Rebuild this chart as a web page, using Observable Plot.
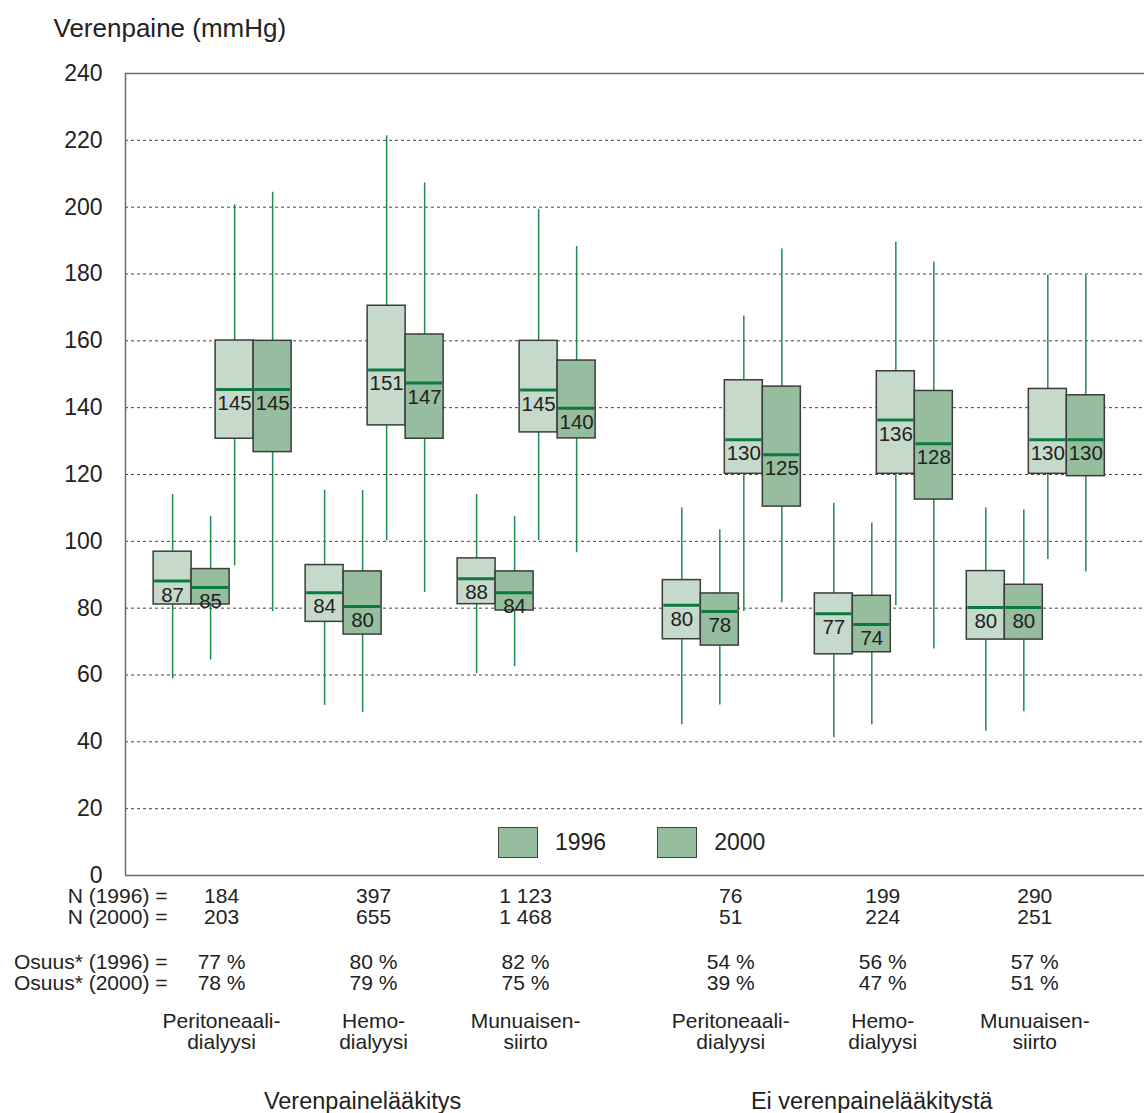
<!DOCTYPE html>
<html><head><meta charset="utf-8">
<script src="https://cdn.jsdelivr.net/npm/d3@7"></script>
<script src="https://cdn.jsdelivr.net/npm/@observablehq/plot@0.6"></script>
<style>
body{margin:0;background:#fff;font-family:"Liberation Sans",Arial,Helvetica,sans-serif;}
#wrap{position:relative;width:1144px;height:1113px;overflow:hidden;}
#legend{position:absolute;left:498px;top:827px;display:flex;align-items:center;font-size:23px;color:#222;}
.sw{width:38px;height:29px;background:#96bd9d;border:1.5px solid #444;}
.lt{margin-left:17px;}
.gap{width:51px;}
</style></head>
<body>
<div id="wrap"><div id="chart"></div>
<div id="legend"><div class="sw"></div><span class="lt">1996</span><div class="gap"></div><div class="sw"></div><span class="lt">2000</span></div>
</div>
<script>
// ---- data ----
const groupLabels = ["Peritoneaali-\ndialyysi","Hemo-\ndialyysi","Munuaisen-\nsiirto","Peritoneaali-\ndialyysi","Hemo-\ndialyysi","Munuaisen-\nsiirto"];
const groupPos = [0, 1, 2, 3.35, 4.35, 5.35];
const sectionLabels = ["Verenpainelääkitys", "Ei verenpainelääkitystä"];
const sectionPos = [1, 4.35];
const n1996 = [184, 397, 1123, 76, 199, 290];
const n2000 = [203, 655, 1468, 51, 224, 251];
const share1996 = [77, 80, 82, 54, 56, 57];
const share2000 = [78, 79, 75, 39, 47, 51];
const yTicks = [0, 20, 40, 60, 80, 100, 120, 140, 160, 180, 200, 220, 240];
const years = [1996, 2000];
// rows: [whisker low, Q1, median, Q3, whisker high, median label]
const dia1996 = [
  [58.8, 81.1, 88.1, 96.9, 114.0, 87],
  [50.9, 75.9, 84.6, 92.9, 115.3, 84],
  [60.4, 81.2, 88.8, 94.9, 114.0, 88],
  [45.1, 70.7, 80.9, 88.4, 110.0, 80],
  [41.2, 66.2, 78.3, 84.4, 111.4, 77],
  [43.2, 70.6, 80.2, 91.1, 110.0, 80]
];
const dia2000 = [
  [64.5, 81.1, 86.2, 91.7, 107.5, 85],
  [48.8, 72.1, 80.5, 91.0, 115.2, 80],
  [62.5, 79.3, 84.6, 91.0, 107.4, 84],
  [51.0, 68.8, 79.0, 84.4, 103.5, 78],
  [45.1, 66.8, 75.1, 83.7, 105.5, 74],
  [49.0, 70.6, 80.2, 87.0, 109.4, 80]
];
const sys1996 = [
  [92.7, 130.7, 145.4, 160.1, 200.7, 145],
  [100.2, 134.7, 151.3, 170.5, 221.4, 151],
  [100.2, 132.6, 145.3, 160.0, 199.3, 145],
  [79.0, 120.2, 130.4, 148.2, 167.4, 130],
  [80.8, 120.2, 136.3, 150.9, 189.5, 136],
  [94.6, 120.2, 130.4, 145.6, 179.7, 130]
];
const sys2000 = [
  [78.9, 126.7, 145.4, 160.0, 204.5, 145],
  [84.7, 130.7, 147.4, 161.9, 207.2, 147],
  [96.6, 130.8, 139.8, 154.1, 188.2, 140],
  [81.6, 110.4, 125.9, 146.3, 187.5, 125],
  [67.8, 112.5, 129.2, 145.0, 183.6, 128],
  [90.8, 119.5, 130.4, 143.7, 179.7, 130]
];

// ---- layout of the boxes around each group position ----
const boxW = 0.25;
const series = [
  {rows: dia1996, year: 1996, pair: -0.197},
  {rows: dia2000, year: 2000, pair: -0.197},
  {rows: sys1996, year: 1996, pair: 0.211},
  {rows: sys2000, year: 2000, pair: 0.211}
];
const boxes = [];
for (const s of series) {
  s.rows.forEach((r, i) => {
    const pc = groupPos[i] + s.pair;
    const x1 = s.year === 1996 ? pc - boxW : pc;
    const x2 = x1 + boxW;
    boxes.push({x1, x2, xc: (x1 + x2) / 2, lo: r[0], q1: r[1], med: r[2], q3: r[3], hi: r[4], label: String(r[5]), year: s.year});
  });
}

const fmtN = d3.formatLocale({decimal: ",", thousands: "\u00a0", grouping: [3], currency: ["", ""]}).format(",d");
const font = "'Liberation Sans', Arial, Helvetica, sans-serif";
const txt = "#222";
const fs = 21;

const chart = Plot.plot({
  width: 1144, height: 1113,
  marginTop: 73, marginBottom: 238, marginLeft: 125, marginRight: 0,
  style: {fontFamily: font, fontSize: "23px", color: txt, background: "#fff"},
  x: {axis: null, domain: [-0.632, 6.072]},
  y: {domain: [0, 240], axis: null},
  color: {type: "ordinal", domain: years, range: ["#c5dacb", "#96bd9d"]},
  marks: [
    Plot.ruleY(yTicks.filter(d => d > 0 && d < 240), {stroke: "#444", strokeWidth: 1, strokeDasharray: "3,3"}),
    Plot.ruleY([0, 240], {stroke: "#6a6a6a", strokeWidth: 1.5}),
    Plot.ruleX([-0.632], {stroke: "#6a6a6a", strokeWidth: 1.5}),
    Plot.axisY({ticks: yTicks, tickSize: 0, tickPadding: 23, fontSize: 23, fill: txt, label: null}),
    Plot.ruleX(boxes, {x: "xc", y1: "lo", y2: "hi", stroke: "#1e8c50", strokeWidth: 1.5}),
    Plot.rect(boxes, {x1: "x1", x2: "x2", y1: "q1", y2: "q3", fill: "year", stroke: "#3c3c3c", strokeWidth: 1.5}),
    Plot.ruleY(boxes, {x1: "x1", x2: "x2", y: "med", stroke: "#0b7a3e", strokeWidth: 3, insetLeft: 1, insetRight: 1}),
    Plot.text(boxes, {x: "xc", y: "med", text: "label", dy: 14, lineAnchor: "middle", fontSize: 20.5, fill: txt}),
    // title
    Plot.text(["Verenpaine (mmHg)"], {frameAnchor: "top-left", dx: -72, dy: -45, textAnchor: "start", lineAnchor: "middle", fontSize: 26, fill: txt}),
    // row labels
    Plot.text(["N (1996) ="], {frameAnchor: "bottom-left", dx: 42, dy: 21, textAnchor: "end", lineAnchor: "middle", fontSize: fs, fill: txt}),
    Plot.text(["N (2000) ="], {frameAnchor: "bottom-left", dx: 42, dy: 42, textAnchor: "end", lineAnchor: "middle", fontSize: fs, fill: txt}),
    Plot.text(["Osuus* (1996) ="], {frameAnchor: "bottom-left", dx: 42, dy: 87, textAnchor: "end", lineAnchor: "middle", fontSize: fs, fill: txt}),
    Plot.text(["Osuus* (2000) ="], {frameAnchor: "bottom-left", dx: 42, dy: 108, textAnchor: "end", lineAnchor: "middle", fontSize: fs, fill: txt}),
    Plot.text(groupPos, {x: d => d, frameAnchor: "bottom", text: (d, i) => fmtN(n1996[i]), dy: 21, lineAnchor: "middle", fontSize: fs, fill: txt}),
    Plot.text(groupPos, {x: d => d, frameAnchor: "bottom", text: (d, i) => fmtN(n2000[i]), dy: 42, lineAnchor: "middle", fontSize: fs, fill: txt}),
    Plot.text(groupPos, {x: d => d, frameAnchor: "bottom", text: (d, i) => share1996[i] + " %", dy: 87, lineAnchor: "middle", fontSize: fs, fill: txt}),
    Plot.text(groupPos, {x: d => d, frameAnchor: "bottom", text: (d, i) => share2000[i] + " %", dy: 108, lineAnchor: "middle", fontSize: fs, fill: txt}),
    Plot.text(groupPos, {x: d => d, frameAnchor: "bottom", text: (d, i) => groupLabels[i], dy: 156, lineAnchor: "middle", lineHeight: 1.0, fontSize: fs, fill: txt}),
    Plot.text(sectionPos, {x: d => d, frameAnchor: "bottom", text: (d, i) => sectionLabels[i], dx: -11, dy: 226, lineAnchor: "middle", fontSize: 23.5, fill: txt})
  ]
});
document.getElementById("chart").appendChild(chart);
</script>
</body></html>
